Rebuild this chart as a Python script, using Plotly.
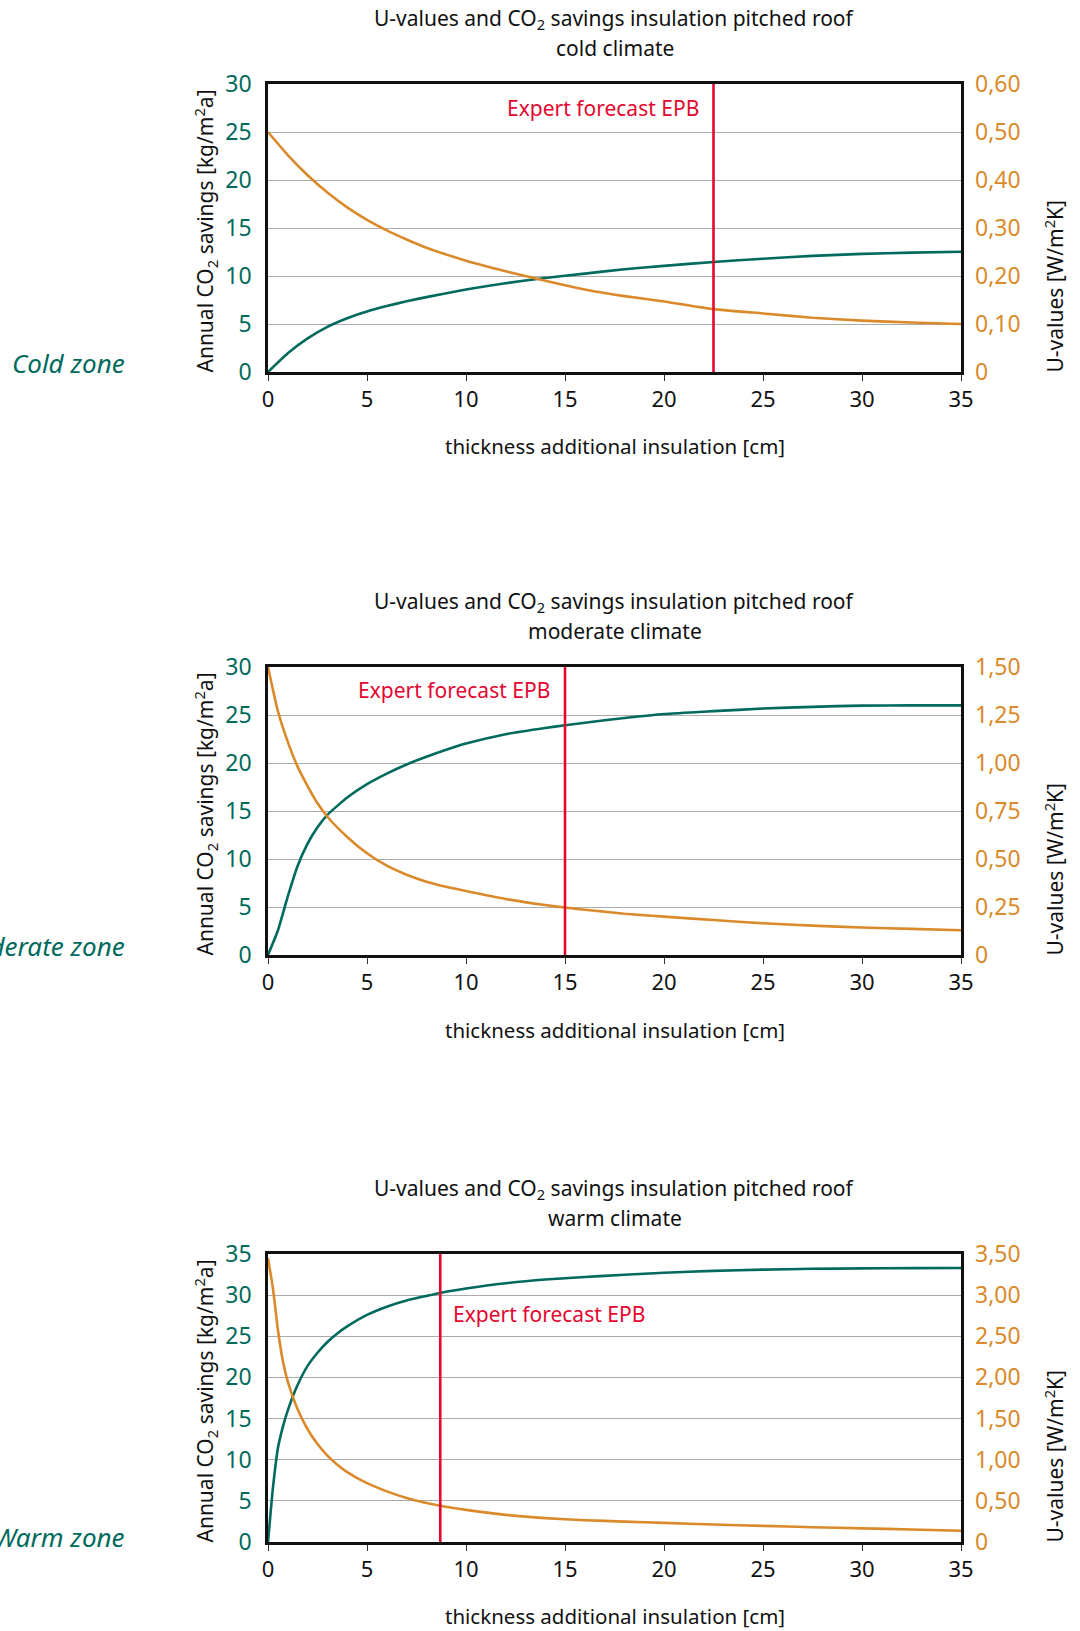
import plotly.graph_objects as go

W, H = 1080, 1631

# ---------------- data ----------------
x_cold = [0, 1, 2, 3, 4, 5, 6, 7, 8, 10, 12, 14, 16, 18, 20, 22.5, 25, 27.5, 30, 32.5, 35]
co2_cold = [0, 1.95, 3.5, 4.7, 5.6, 6.3, 6.87, 7.37, 7.8, 8.6, 9.25, 9.8, 10.25, 10.7, 11.05,
            11.46, 11.8, 12.1, 12.3, 12.43, 12.53]
u_cold = [0.50, 0.452, 0.41, 0.374, 0.343, 0.317, 0.295, 0.276, 0.259, 0.232, 0.21, 0.19, 0.172,
          0.158, 0.147, 0.131, 0.122, 0.113, 0.107, 0.103, 0.100]

x_mod = [0, 0.5, 1, 1.5, 2, 2.5, 3, 4, 5, 6, 7, 8, 9, 10, 12, 14, 15, 16, 18, 20, 22.5, 25, 27.5,
         30, 32.5, 35]
co2_mod = [0, 2.55, 6.1, 9.3, 11.6, 13.3, 14.6, 16.4, 17.8, 18.9, 19.85, 20.65, 21.38, 22.02, 23.0,
           23.65, 23.93, 24.2, 24.68, 25.1, 25.4, 25.67, 25.85, 25.98, 26.0, 26.0]
u_mod = [1.50, 1.27, 1.11, 0.98, 0.88, 0.79, 0.72, 0.615, 0.53, 0.465, 0.418, 0.382, 0.355, 0.333,
         0.292, 0.26, 0.247, 0.236, 0.215, 0.200, 0.182, 0.165, 0.153, 0.143, 0.136, 0.129]

x_warm = [0, 0.25, 0.5, 0.75, 1, 1.5, 2, 2.5, 3, 3.5, 4, 5, 6, 7, 8, 8.7, 10, 12, 14, 16, 18, 20,
          22.5, 25, 27.5, 30, 32.5, 35]
co2_warm = [0, 6.6, 11.4, 14.0, 16.0, 19.1, 21.4, 23.0, 24.3, 25.35, 26.2, 27.6, 28.6, 29.35, 29.9,
            30.27, 30.8, 31.45, 31.9, 32.2, 32.47, 32.72, 32.95, 33.1, 33.2, 33.25, 33.28, 33.3]
u_warm = [3.45, 3.08, 2.58, 2.2, 1.95, 1.61, 1.37, 1.19, 1.05, 0.94, 0.85, 0.715, 0.615, 0.535, 0.475,
          0.44, 0.39, 0.33, 0.29, 0.265, 0.248, 0.232, 0.213, 0.196, 0.18, 0.166, 0.152, 0.137]

epb_values = [22.5, 15, 8.7]
climates = ["cold climate", "moderate climate", "warm climate"]
zones = ["Cold zone", "Moderate zone", "Warm zone"]

x_ticks = [0, 5, 10, 15, 20, 25, 30, 35]
co2_max = [30, 30, 35]
co2_ticks = [[0, 5, 10, 15, 20, 25, 30], [0, 5, 10, 15, 20, 25, 30], [0, 5, 10, 15, 20, 25, 30, 35]]
u_max = [0.60, 1.50, 3.50]
u_tickvals = [[0, 0.1, 0.2, 0.3, 0.4, 0.5, 0.6],
              [0, 0.25, 0.5, 0.75, 1.0, 1.25, 1.5],
              [0, 0.5, 1.0, 1.5, 2.0, 2.5, 3.0, 3.5]]
u_ticktext = [["0", "0,10", "0,20", "0,30", "0,40", "0,50", "0,60"],
              ["0", "0,25", "0,50", "0,75", "1,00", "1,25", "1,50"],
              ["0", "0,50", "1,00", "1,50", "2,00", "2,50", "3,00", "3,50"]]

title_main = "U-values and CO<sub>2</sub> savings insulation pitched roof"
x_title = "thickness additional insulation [cm]"
y_left_title = "Annual CO<sub>2</sub> savings [kg/m<sup>2</sup>a]"
y_right_title = "U-values [W/m<sup>2</sup>K]"
epb_label = "Expert forecast EPB"

series_x = [x_cold, x_mod, x_warm]
series_co2 = [co2_cold, co2_mod, co2_warm]
series_u = [u_cold, u_mod, u_warm]

# ---------------- style / layout ----------------
TEAL = "#006A5D"
ORANGE = "#DA8A2A"
RED = "#E4062F"
FONT = "Noto Sans"

plot_left, plot_right = 268, 961
plot_tops = [84, 667, 1254]
plot_bottoms = [372, 955, 1542]
title1_y = [19, 602, 1189]
title2_y = [48, 631, 1218]
xtitle_y = [446, 1030, 1616]
zone_y = [363, 946, 1537]
epb_text_y = [108, 690, 1314]
epb_side = ["left", "left", "right"]


def pxx(v):
    return v / W


def pxy(v):
    return 1 - v / H


fig = go.Figure()
annotations = []
shapes = []

for i in range(3):
    xa = "x" if i == 0 else f"x{i + 1}"
    ya_l = "y" if i == 0 else f"y{2 * i + 1}"
    ya_r = f"y{2 * i + 2}"
    xa_key = "xaxis" if i == 0 else f"xaxis{i + 1}"
    yl_key = "yaxis" if i == 0 else f"yaxis{2 * i + 1}"
    yr_key = f"yaxis{2 * i + 2}"

    fig.add_trace(go.Scatter(x=series_x[i], y=series_co2[i], mode="lines",
                             line=dict(color=TEAL, width=2.6, shape="spline", smoothing=0.5),
                             xaxis=xa, yaxis=ya_l, showlegend=False, hoverinfo="skip"))
    fig.add_trace(go.Scatter(x=series_x[i], y=series_u[i], mode="lines",
                             line=dict(color=ORANGE, width=2.6, shape="spline", smoothing=0.5),
                             xaxis=xa, yaxis=ya_r, showlegend=False, hoverinfo="skip"))

    dom_y = [pxy(plot_bottoms[i]), pxy(plot_tops[i])]
    fig.layout[xa_key] = dict(
        domain=[pxx(plot_left), pxx(plot_right)], anchor=ya_l, range=[0, 35],
        tickvals=x_ticks, ticks="outside", ticklen=6, tickwidth=1.2, tickcolor="#333",
        tickfont=dict(family=FONT, size=22, color="#111"), ticklabelstandoff=0,
        showline=True, mirror=True, linecolor="#111", linewidth=2.6, automargin=False,
        showgrid=False, zeroline=False, fixedrange=True)
    fig.layout[yl_key] = dict(
        domain=dom_y, anchor=xa, range=[0, co2_max[i]], tickvals=co2_ticks[i],
        ticks="", tickfont=dict(family=FONT, size=23, color=TEAL), ticklabelstandoff=9,
        showline=True, mirror=True, linecolor="#111", linewidth=2.6, automargin=False,
        showgrid=True, gridcolor="#ABABAB", gridwidth=1.2, zeroline=False, fixedrange=True)
    fig.layout[yr_key] = dict(
        overlaying=ya_l, anchor=xa, side="right", range=[0, u_max[i]],
        tickvals=u_tickvals[i], ticktext=u_ticktext[i], ticks="",
        tickfont=dict(family=FONT, size=23, color=ORANGE), ticklabelstandoff=13,
        showline=False, showgrid=False, zeroline=False, fixedrange=True, automargin=False)

    # EPB vertical line
    shapes.append(dict(type="line", xref=xa, yref=f"{ya_l} domain",
                       x0=epb_values[i], x1=epb_values[i], y0=0, y1=1,
                       line=dict(color=RED, width=2.6)))
    # EPB label
    label_y = (plot_bottoms[i] - epb_text_y[i]) / (plot_bottoms[i] - plot_tops[i])
    if epb_side[i] == "left":
        annotations.append(dict(text=epb_label, xref=xa, yref=f"{ya_l} domain",
                                x=epb_values[i], y=label_y, xanchor="right", yanchor="middle",
                                xshift=-13, showarrow=False,
                                font=dict(family=FONT, size=21, color=RED)))
    else:
        annotations.append(dict(text=epb_label, xref=xa, yref=f"{ya_l} domain",
                                x=epb_values[i], y=label_y, xanchor="left", yanchor="middle",
                                xshift=11, showarrow=False,
                                font=dict(family=FONT, size=21, color=RED)))

    cx = pxx((plot_left + plot_right) / 2)
    annotations.append(dict(text=title_main, xref="paper", yref="paper", x=cx, y=pxy(title1_y[i]),
                            xanchor="center", yanchor="middle", showarrow=False,
                            font=dict(family=FONT, size=21, color="#111")))
    annotations.append(dict(text=climates[i], xref="paper", yref="paper", x=cx, y=pxy(title2_y[i]),
                            xanchor="center", yanchor="middle", showarrow=False,
                            font=dict(family=FONT, size=21, color="#111")))
    annotations.append(dict(text=x_title, xref="paper", yref="paper", x=cx, y=pxy(xtitle_y[i]),
                            xanchor="center", yanchor="middle", showarrow=False,
                            font=dict(family=FONT, size=20.5, color="#111")))
    annotations.append(dict(text=y_left_title, xref="paper", yref="paper", x=pxx(205),
                            y=pxy(plot_bottoms[i] + 3), xanchor="center", yanchor="bottom",
                            textangle=-90, showarrow=False,
                            font=dict(family=FONT, size=21, color="#111")))
    annotations.append(dict(text=y_right_title, xref="paper", yref="paper", x=pxx(1054),
                            y=pxy(plot_bottoms[i] + 3), xanchor="center", yanchor="bottom",
                            textangle=-90, showarrow=False,
                            font=dict(family=FONT, size=21, color="#111")))
    annotations.append(dict(text=f"<i>{zones[i]}</i>", xref="paper", yref="paper", x=pxx(127),
                            y=pxy(zone_y[i]), xanchor="right", yanchor="middle", showarrow=False,
                            font=dict(family=FONT, size=26, color=TEAL)))

fig.update_layout(
    width=W, height=H, margin=dict(l=0, r=0, t=0, b=0, pad=0, autoexpand=False),
    paper_bgcolor="white", plot_bgcolor="white",
    font=dict(family=FONT, color="#111"),
    annotations=annotations, shapes=shapes, showlegend=False,
)

page_fix = (
    "document.body.style.margin='0';"
    "document.body.style.padding='0';"
    "document.body.style.overflow='hidden';"
    "var gd=document.getElementById('{plot_id}');"
    "gd.style.position='absolute';gd.style.left='0px';gd.style.top='0px';"
)

fig.write_html("out.html", config={"displayModeBar": False}, post_script=page_fix)
